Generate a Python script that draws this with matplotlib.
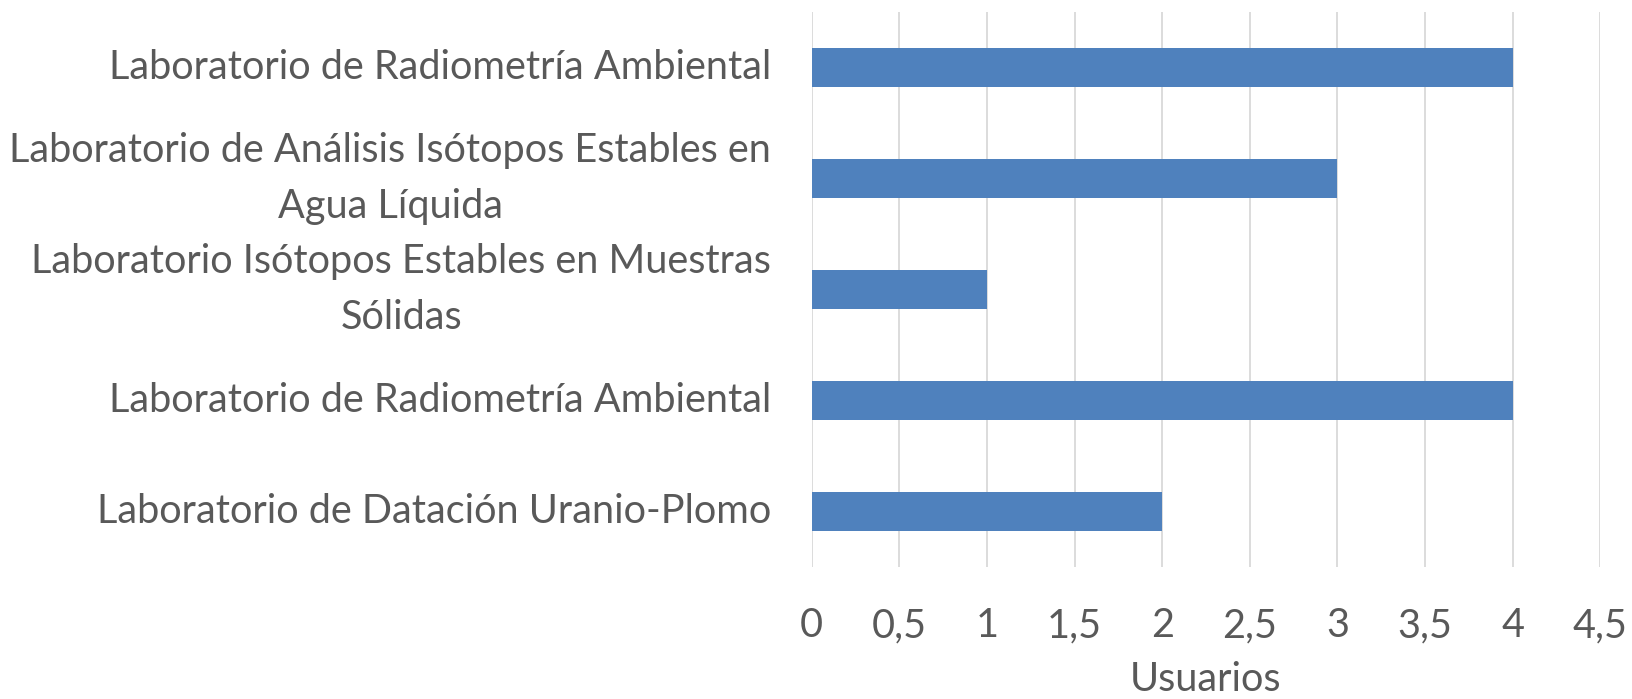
import numpy as np
import matplotlib
matplotlib.use("Agg")
import matplotlib.pyplot as plt
from matplotlib.ticker import MultipleLocator, FuncFormatter

labs = [
    "Laboratorio de Radiometría Ambiental",
    "Laboratorio de Análisis Isótopos Estables en\nAgua Líquida",
    "Laboratorio Isótopos Estables en Muestras\nSólidas",
    "Laboratorio de Radiometría Ambiental",
    "Laboratorio de Datación Uranio-Plomo",
]
usuarios = [4, 3, 1, 4, 2]

txt = "#595959"
fs = 28.5
plt.rcParams["font.family"] = ["Lato", "DejaVu Sans"]

fig = plt.figure(figsize=(16.33, 6.99), dpi=100)
ax = fig.add_axes([0.497, 0.189, 0.483, 0.794])

pos = np.arange(len(labs))[::-1]
ax.barh(pos, usuarios, height=0.35, color="#4F81BD", zorder=3)

ax.set_xlim(0, 4.5)
ax.set_ylim(-0.5, len(labs) - 0.5)
ax.xaxis.set_major_locator(MultipleLocator(0.5))
ax.xaxis.set_major_formatter(FuncFormatter(lambda v, _: f"{v:g}".replace(".", ",")))
ax.grid(axis="x", color="#D9D9D9", linewidth=1.3, zorder=0)
for s in ax.spines.values():
    s.set_visible(False)

ax.set_yticks(pos)
ax.set_yticklabels(labs, multialignment="center", linespacing=1.65, va="center")
ax.tick_params(axis="y", length=0, pad=29, labelsize=fs, labelcolor=txt)
ax.tick_params(axis="x", length=0, pad=29, labelsize=fs, labelcolor=txt)
ax.set_xlabel("Usuarios", fontsize=fs, color=txt, labelpad=12)

fig.savefig("out.png", dpi=100, facecolor="white")
